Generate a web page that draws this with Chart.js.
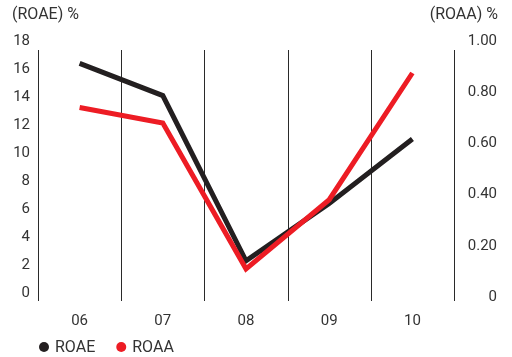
<!DOCTYPE html>
<html>
<head>
<meta charset="utf-8">
<script src="https://cdn.jsdelivr.net/npm/chart.js@4/dist/chart.umd.min.js"></script>
<style>
  html, body { margin: 0; padding: 0; background: #fff; }
  #wrap { width: 512px; height: 357px; position: relative; }
</style>
</head>
<body>
<div id="wrap"><canvas id="c"></canvas></div>
<script>
// Return on average equity / assets, by year
const years = ['06', '07', '08', '09', '10'];
const roae = [16.4, 14.1, 2.3, 6.4, 11.0];      // %
const roaa = [0.74, 0.68, 0.11, 0.38, 0.875];   // %
const roaeTicks = [0, 2, 4, 6, 8, 10, 12, 14, 16, 18];
const roaaTicks = [0, 0.2, 0.4, 0.6, 0.8, 1.0];
const roaaTickLabels = ['0', '0.20', '0.40', '0.60', '0.80', '1.00'];
const seriesNames = ['ROAE', 'ROAA'];
const seriesColors = ['#231f20', '#ed1c24'];
const axisTitles = ['(ROAE) %', '(ROAA) %'];

const FONT = 'Roboto, "Liberation Sans", sans-serif';
const TEXT = '#333333';

// Vertical separators between the years, plus the two axis lines
const separators = {
  id: 'separators',
  beforeDatasetsDraw(chart) {
    const { ctx, chartArea, scales } = chart;
    const x = scales.x;
    const step = x.getPixelForValue(1) - x.getPixelForValue(0);
    ctx.save();
    ctx.strokeStyle = '#2a2a2a';
    ctx.lineWidth = 1;
    for (let i = 0; i <= years.length; i++) {
      const px = Math.round(x.getPixelForValue(i) - step / 2) + 0.5;
      ctx.beginPath();
      ctx.moveTo(px, chartArea.top + 9);
      ctx.lineTo(px, chartArea.bottom);
      ctx.stroke();
    }
    ctx.restore();
  }
};

// Axis unit titles above each value axis, and the series key under the chart
const annotations = {
  id: 'annotations',
  afterDraw(chart) {
    const { ctx, chartArea } = chart;
    ctx.save();
    ctx.fillStyle = TEXT;
    ctx.font = '16px ' + FONT;
    ctx.textBaseline = 'middle';
    ctx.textAlign = 'left';
    ctx.fillText(axisTitles[0], 12, 15);
    ctx.textAlign = 'right';
    ctx.fillText(axisTitles[1], chart.scales.y1.right + 1, 15);

    // key
    let kx = chartArea.left + 1;
    const ky = 347;
    ctx.textAlign = 'left';
    chart.data.datasets.forEach((ds) => {
      ctx.fillStyle = ds.borderColor;
      ctx.beginPath();
      ctx.arc(kx + 5, ky, 5, 0, Math.PI * 2);
      ctx.fill();
      ctx.fillStyle = TEXT;
      ctx.fillText(ds.label, kx + 16, ky + 1);
      kx += 16 + ctx.measureText(ds.label).width + 21;
    });
    ctx.restore();
  }
};

const ticksFrom = (values) => (scale) => {
  scale.ticks = values.map((v) => ({ value: v }));
};

new Chart(document.getElementById('c'), {
  type: 'line',
  data: {
    labels: years,
    datasets: [
      {
        label: seriesNames[0],
        data: roae,
        yAxisID: 'y',
        borderColor: seriesColors[0],
        backgroundColor: seriesColors[0],
        borderWidth: 5,
        pointRadius: 0,
        tension: 0,
        order: 1
      },
      {
        label: seriesNames[1],
        data: roaa,
        yAxisID: 'y1',
        borderColor: seriesColors[1],
        backgroundColor: seriesColors[1],
        borderWidth: 5,
        pointRadius: 0,
        tension: 0,
        order: 0
      }
    ]
  },
  options: {
    responsive: true,
    maintainAspectRatio: false,
    animation: false,
    events: [],
    layout: { padding: { left: 0, right: 15, top: 41, bottom: 16 } },
    plugins: {
      legend: { display: false },
      tooltip: { enabled: false },
      title: { display: false }
    },
    scales: {
      x: {
        type: 'category',
        offset: true,
        grid: { display: false, drawTicks: false },
        border: { display: false },
        ticks: { color: TEXT, font: { family: FONT, size: 15 }, padding: 11, maxRotation: 0 }
      },
      y: {
        position: 'left',
        min: -0.571,
        max: 18,
        afterBuildTicks: ticksFrom(roaeTicks),
        afterFit(s) { s.width = 38; },
        grid: { display: false, drawTicks: false },
        border: { display: false },
        ticks: { color: TEXT, font: { family: FONT, size: 15 }, padding: 8 }
      },
      y1: {
        position: 'right',
        min: -0.0156,
        max: 1.0,
        afterBuildTicks: ticksFrom(roaaTicks),
        afterFit(s) { s.width = 43; },
        grid: { display: false, drawTicks: false },
        border: { display: false },
        ticks: {
          color: TEXT,
          font: { family: FONT, size: 15 },
          padding: 0,
          crossAlign: 'far',
          callback: (v, i) => roaaTickLabels[i]
        }
      }
    }
  },
  plugins: [separators, annotations]
});
</script>
</body>
</html>
